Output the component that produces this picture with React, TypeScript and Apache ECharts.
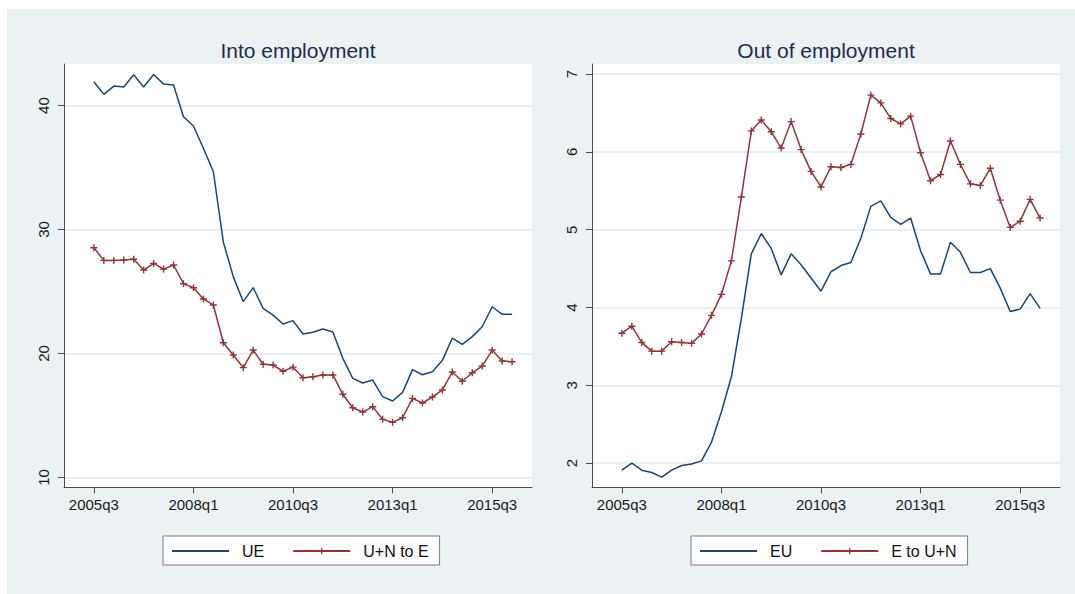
import React, { useEffect, useRef } from "react";
import * as echarts from "echarts";

// quarter index 0 = 2005q3
const xTickQuarters = [0, 10, 20, 30, 40];
const xTickLabels = ["2005q3", "2008q1", "2010q3", "2013q1", "2015q3"];

const leftTicks = [10, 20, 30, 40];
const rightTicks = [2, 3, 4, 5, 6, 7];

const ueInto = [41.92, 40.9, 41.57, 41.5, 42.48, 41.5, 42.5, 41.73, 41.65, 39.1, 38.35, 36.55, 34.66, 29.0, 26.2, 24.18, 25.31, 23.64, 23.1, 22.38, 22.65, 21.57, 21.71, 21.98, 21.73, 19.61, 18.0, 17.62, 17.86, 16.52, 16.17, 16.87, 18.7, 18.29, 18.53, 19.45, 21.25, 20.74, 21.36, 22.16, 23.77, 23.16, 23.16];
const unToE = [28.53, 27.51, 27.51, 27.54, 27.6, 26.73, 27.27, 26.81, 27.14, 25.63, 25.31, 24.4, 23.91, 20.87, 19.88, 18.86, 20.28, 19.13, 19.07, 18.57, 18.9, 18.05, 18.13, 18.27, 18.27, 16.71, 15.63, 15.28, 15.71, 14.69, 14.45, 14.82, 16.38, 16.01, 16.49, 17.06, 18.51, 17.76, 18.45, 18.99, 20.28, 19.4, 19.34];
const euOut = [1.91, 2.0, 1.91, 1.88, 1.82, 1.91, 1.97, 1.99, 2.03, 2.27, 2.66, 3.11, 3.86, 4.69, 4.95, 4.76, 4.42, 4.69, 4.55, 4.38, 4.21, 4.46, 4.54, 4.58, 4.89, 5.3, 5.37, 5.16, 5.07, 5.15, 4.73, 4.43, 4.43, 4.84, 4.71, 4.45, 4.45, 4.5, 4.25, 3.95, 3.98, 4.18, 3.99];
const eToUN = [3.67, 3.76, 3.55, 3.44, 3.44, 3.56, 3.55, 3.54, 3.66, 3.9, 4.17, 4.6, 5.42, 6.27, 6.41, 6.26, 6.05, 6.39, 6.03, 5.75, 5.55, 5.81, 5.8, 5.84, 6.23, 6.73, 6.63, 6.43, 6.36, 6.46, 5.99, 5.63, 5.71, 6.14, 5.84, 5.59, 5.57, 5.79, 5.38, 5.03, 5.11, 5.39, 5.15];

const NAVY = "#1a476f";
const MAROON = "#90353b";
const BG = "#eaf2f3";
const FONT = 'Helvetica, "Liberation Sans", Arial, sans-serif';
const PLUS = "path://M4,0H6V4H10V6H6V10H4V6H0V4H4Z";

const toPairs = (arr: number[]) => arr.map((v, i) => [i, v]);

function xAxis(gridIndex: number) {
  return {
    type: "value",
    gridIndex,
    min: -3,
    max: 44,
    axisLine: { show: true, onZero: false, lineStyle: { color: "#4a4a4a", width: 1 } },
    axisTick: { show: true, length: 6, customValues: xTickQuarters, lineStyle: { color: "#4a4a4a" } },
    axisLabel: {
      customValues: xTickQuarters,
      formatter: (v: number) => xTickLabels[xTickQuarters.indexOf(v)] ?? "",
      fontSize: 15,
      color: "#1a1a1a",
      fontFamily: FONT,
      margin: 10,
    },
    splitLine: { show: false },
  };
}

function yAxis(gridIndex: number, min: number, max: number, ticks: number[]) {
  return {
    type: "value",
    gridIndex,
    min,
    max,
    axisLine: { show: true, onZero: false, lineStyle: { color: "#4a4a4a", width: 1 } },
    axisTick: { show: true, length: 6, customValues: ticks, lineStyle: { color: "#4a4a4a" } },
    axisLabel: {
      customValues: ticks,
      rotate: 90,
      fontSize: 15,
      color: "#1a1a1a",
      fontFamily: FONT,
      margin: 13,
    },
    splitLine: { show: true, lineStyle: { color: "#e3ecee", width: 1.5 } },
  };
}

function legend(left: number, lineName: string, markName: string) {
  return {
    data: [{ name: lineName, itemStyle: { opacity: 0 } }, { name: markName }],
    left,
    top: 536,
    orient: "horizontal",
    backgroundColor: "#ffffff",
    borderColor: "#7a7a7a",
    borderWidth: 1,
    borderRadius: 0,
    padding: [7, 11, 6, 8],
    itemWidth: 57,
    itemHeight: 8,
    itemGap: 28,
    textStyle: { fontSize: 16, color: "#111", fontFamily: FONT, padding: [0, 0, 0, 8] },
  };
}

export default function App() {
  const ref = useRef<HTMLDivElement>(null);
  useEffect(() => {
    if (!ref.current) return;
    const chart = echarts.init(ref.current, undefined, { renderer: "svg" });
    chart.setOption({
      animation: false,
      graphic: [
        { type: "rect", z: -10, shape: { x: 7, y: 9, width: 1068, height: 585 }, style: { fill: BG } },
      ],
      title: [
        { text: "Into employment", left: 298, top: 40, textAlign: "center", padding: 0, textStyle: { fontSize: 21, fontWeight: "normal", color: "#1e2b4d", fontFamily: FONT } },
        { text: "Out of employment", left: 826, top: 40, textAlign: "center", padding: 0, textStyle: { fontSize: 21, fontWeight: "normal", color: "#1e2b4d", fontFamily: FONT } },
      ],
      legend: [legend(163, "UE", "U+N to E"), legend(691, "EU", "E to U+N")],
      grid: [
        { left: 64, top: 64, width: 468, height: 423.3, show: true, backgroundColor: "#ffffff", borderWidth: 0 },
        { left: 592, top: 64, width: 468, height: 423.3, show: true, backgroundColor: "#ffffff", borderWidth: 0 },
      ],
      xAxis: [xAxis(0), xAxis(1)],
      yAxis: [yAxis(0, 9.21, 43.35, leftTicks), yAxis(1, 1.69, 7.13, rightTicks)],
      series: [
        { name: "UE", type: "line", xAxisIndex: 0, yAxisIndex: 0, data: toPairs(ueInto), symbol: "none", lineStyle: { color: NAVY, width: 1.5 }, itemStyle: { color: NAVY } },
        { name: "U+N to E", type: "line", xAxisIndex: 0, yAxisIndex: 0, data: toPairs(unToE), symbol: PLUS, symbolSize: 7, lineStyle: { color: MAROON, width: 1.5 }, itemStyle: { color: MAROON } },
        { name: "EU", type: "line", xAxisIndex: 1, yAxisIndex: 1, data: toPairs(euOut), symbol: "none", lineStyle: { color: NAVY, width: 1.5 }, itemStyle: { color: NAVY } },
        { name: "E to U+N", type: "line", xAxisIndex: 1, yAxisIndex: 1, data: toPairs(eToUN), symbol: PLUS, symbolSize: 7, lineStyle: { color: MAROON, width: 1.5 }, itemStyle: { color: MAROON } },
      ],
    });
    return () => chart.dispose();
  }, []);
  return (
    <div
      ref={ref}
      style={{ position: "absolute", left: 0, top: 0, width: 1075, height: 594, background: "#ffffff" }}
    />
  );
}
